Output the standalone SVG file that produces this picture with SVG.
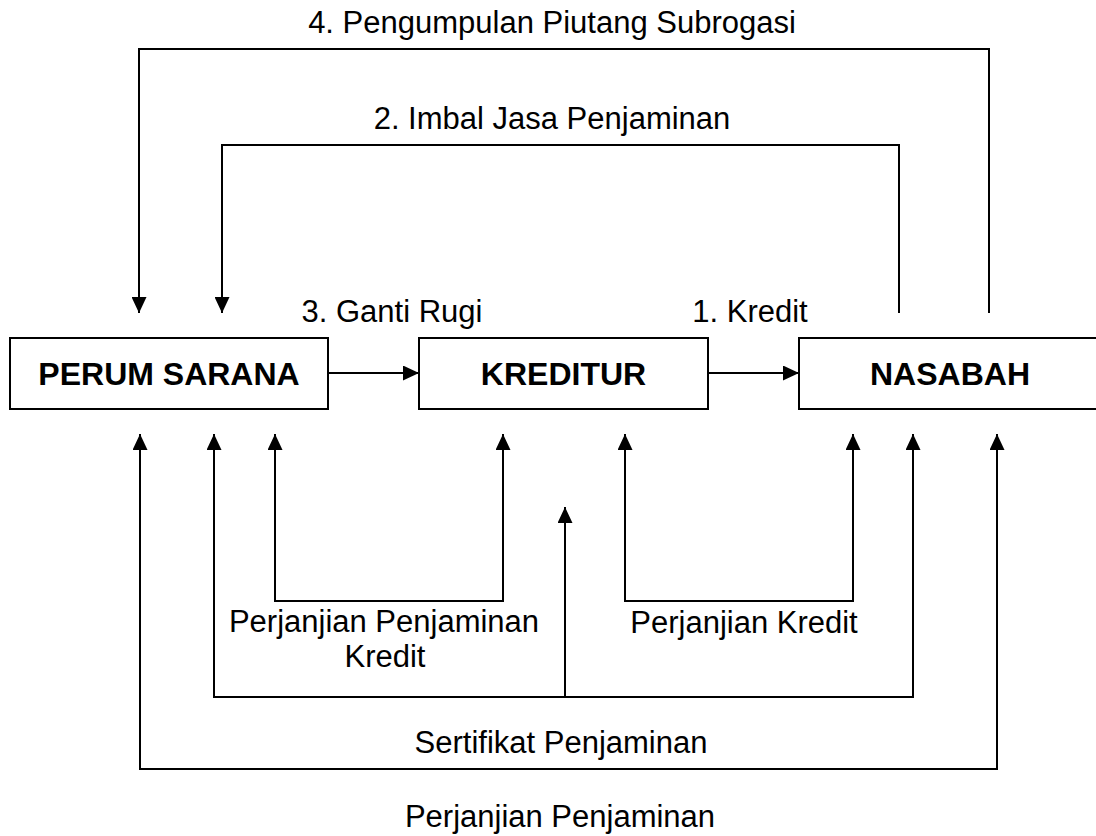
<svg xmlns="http://www.w3.org/2000/svg" width="1096" height="836" viewBox="0 0 1096 836">
<style>
.box{fill:#fff;stroke:#000;stroke-width:2}
.ln{fill:none;stroke:#000;stroke-width:2}
.lbl{font-family:"Liberation Sans",Arial,sans-serif;font-size:31px;fill:#000;text-anchor:middle}
.nt{font-family:"Liberation Sans",Arial,sans-serif;font-size:32px;font-weight:bold;fill:#000;text-anchor:middle}
</style>
<defs>
<marker id="ah" markerUnits="userSpaceOnUse" markerWidth="16" markerHeight="15" refX="16" refY="7.5" orient="auto-start-reverse">
<path d="M0,0 L16,7.5 L0,15 z" fill="#000"/>
</marker>
</defs>
<rect width="1096" height="836" fill="#fff"/>
<g id="connectors">
<polyline class="ln" points="989,313 989,49 139,49 139,313" marker-end="url(#ah)"/>
<polyline class="ln" points="899,313 899,145 222,145 222,313" marker-end="url(#ah)"/>
<line class="ln" x1="328" y1="373" x2="419" y2="373" marker-end="url(#ah)"/>
<line class="ln" x1="708" y1="373" x2="799" y2="373" marker-end="url(#ah)"/>
<polyline class="ln" points="275,434 275,601 503,601 503,434" marker-start="url(#ah)" marker-end="url(#ah)"/>
<polyline class="ln" points="625,434 625,601 853,601 853,434" marker-start="url(#ah)" marker-end="url(#ah)"/>
<polyline class="ln" points="214,434 214,697 913,697 913,434" marker-start="url(#ah)" marker-end="url(#ah)"/>
<line class="ln" x1="565" y1="697" x2="565" y2="507" marker-end="url(#ah)"/>
<polyline class="ln" points="140,434 140,769 997,769 997,434" marker-start="url(#ah)" marker-end="url(#ah)"/>
</g>
<g id="perum">
<rect class="box" x="10" y="338" width="318" height="71"/>
<text class="nt" x="169" y="385">PERUM SARANA</text>
</g>
<g id="kreditur">
<rect class="box" x="419" y="338" width="289" height="71"/>
<text class="nt" x="563.5" y="385">KREDITUR</text>
</g>
<g id="nasabah">
<rect class="box" x="799" y="338" width="302" height="71"/>
<text class="nt" x="950" y="385">NASABAH</text>
</g>
<g id="labels">
<text class="lbl" x="552" y="33">4. Pengumpulan Piutang Subrogasi</text>
<text class="lbl" x="552" y="129">2. Imbal Jasa Penjaminan</text>
<text class="lbl" x="392" y="322">3. Ganti Rugi</text>
<text class="lbl" x="750" y="322">1. Kredit</text>
<text class="lbl" x="384" y="632">Perjanjian Penjaminan</text>
<text class="lbl" x="385" y="667">Kredit</text>
<text class="lbl" x="744" y="633">Perjanjian Kredit</text>
<text class="lbl" x="561" y="753">Sertifikat Penjaminan</text>
<text class="lbl" x="560" y="827">Perjanjian Penjaminan</text>
</g>
</svg>
